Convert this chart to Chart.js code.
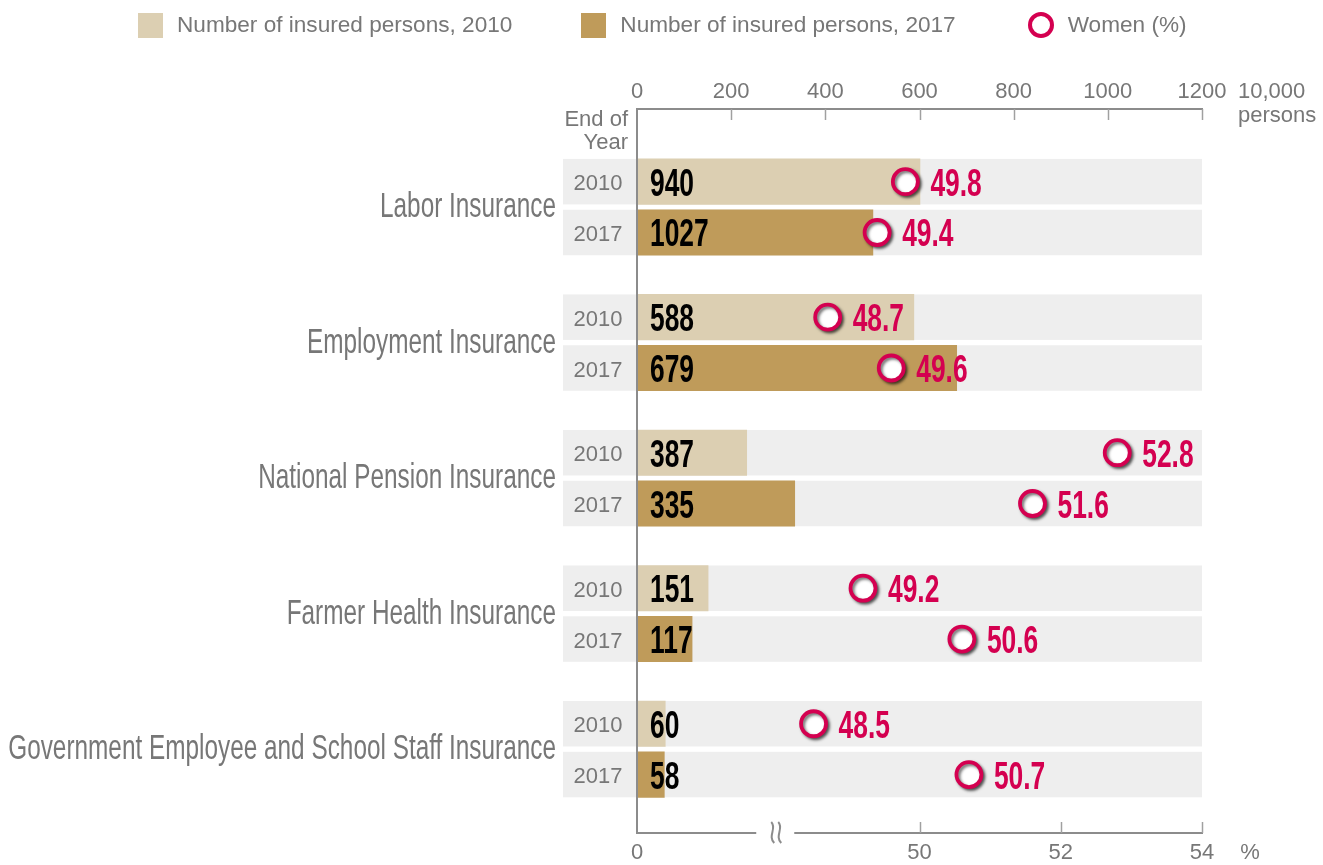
<!DOCTYPE html>
<html>
<head>
<meta charset="utf-8">
<script src="https://cdn.jsdelivr.net/npm/chart.js@4/dist/chart.umd.min.js"></script>
<style>
  html, body { margin: 0; padding: 0; background: #fff; }
  #wrap { position: relative; width: 1323px; height: 865px; }
  #legend { position: absolute; left: 138px; top: 11px; height: 28px; display: flex; align-items: center;
            font-family: "Liberation Sans", Arial, sans-serif; font-size: 22.6px; color: #777; }
  .item { display: flex; align-items: center; margin-right: 69px; white-space: nowrap; }
  .sw { width: 25px; height: 25px; margin-right: 14px; }
  .ring { width: 18px; height: 18px; border: 4px solid #d40050; border-radius: 50%; margin-left: 3px; margin-right: 14px; background: #fff; }
  canvas { position: absolute; left: 0; top: 0; }
</style>
</head>
<body>
<div id="wrap">
  <canvas id="c" width="1323" height="865"></canvas>
  <div id="legend"></div>
</div>
<script>
// ---------- data ----------
const categories = ['Labor Insurance', 'Employment Insurance', 'National Pension Insurance',
                    'Farmer Health Insurance', 'Government Employee and School Staff Insurance'];
const years = ['2010', '2017'];
// printed values (10,000 persons)
const insured2010 = [940, 588, 387, 151, 60];
const insured2017 = [1027, 679, 335, 117, 58];
// bar lengths as actually drawn in the source graphic (10,000 persons on the top axis)
const barDrawn2010 = [601, 588, 233, 151, 60];
const barDrawn2017 = [501, 679, 335, 117, 58];
// share of women (%)
const women2010 = [49.8, 48.7, 52.8, 49.2, 48.5];
const women2017 = [49.4, 49.6, 51.6, 50.6, 50.7];
// tick labels
const personTicks = [0, 200, 400, 600, 800, 1000, 1200];
const pctTickValues = [46, 50, 52, 54];
const pctTickLabels = ['0', '50', '52', '54'];
const pctBreakValue = 48;

// ---------- styling ----------
const C2010 = '#dccfb2', C2017 = '#bf9b5a', PINK = '#d40050', BAND = '#eeeeee';
const TXT = '#777777', AXIS = '#8c8c8c';
const SANS = '"Liberation Sans", Arial, sans-serif';
const NARROW = '"Liberation Sans Narrow", "Liberation Sans", Arial, sans-serif';
const BAR_T = 45.5;

const rowPos = (g, k) => g * 8 + k * 3;   // pair spacing 3, group spacing 8 (layout units)

const bars2010 = barDrawn2010.map((v, g) => ({ x: v, y: rowPos(g, 0) }));
const bars2017 = barDrawn2017.map((v, g) => ({ x: v, y: rowPos(g, 1) }));
const womenPts = [];
categories.forEach((c, g) => {
  womenPts.push({ x: women2010[g], y: rowPos(g, 0) });
  womenPts.push({ x: women2017[g], y: rowPos(g, 1) });
});

function condText(ctx, text, x, y, font, color, align, sx) {
  ctx.save();
  ctx.font = font; ctx.fillStyle = color; ctx.textAlign = align; ctx.textBaseline = 'alphabetic';
  ctx.translate(x, y); ctx.scale(sx, 1); ctx.fillText(text, 0, 0);
  ctx.restore();
}

const deco = {
  id: 'deco',
  beforeDraw(chart) {
    const { ctx, chartArea: a, scales } = chart;
    ctx.save();
    ctx.fillStyle = '#fff'; ctx.fillRect(0, 0, chart.width, chart.height);
    ctx.fillStyle = BAND;
    categories.forEach((c, g) => {
      [0, 1].forEach(k => {
        const y = scales.y.getPixelForValue(rowPos(g, k));
        ctx.fillRect(a.left - 74, y - BAR_T / 2, a.right - (a.left - 74), BAR_T);
      });
    });
    ctx.restore();
  },
  beforeDatasetDraw(chart, args) {
    if (args.meta.type === 'scatter') {
      const ctx = chart.ctx;
      ctx.save();
      ctx.shadowColor = 'rgba(0,0,0,0.55)';
      ctx.shadowOffsetX = 2; ctx.shadowOffsetY = 2; ctx.shadowBlur = 3;
    }
  },
  afterDatasetDraw(chart, args) {
    if (args.meta.type === 'scatter') chart.ctx.restore();
  },
  afterDatasetsDraw(chart) {
    const { ctx, chartArea: a, scales } = chart;
    const xs = scales.x, xp = scales.xp, ys = scales.y;
    ctx.save();
    ctx.font = '35px ' + NARROW;
    const catSx = 176 / ctx.measureText('Labor Insurance').width;
    ctx.font = 'bold 38px ' + NARROW;
    const numSx = 44 / ctx.measureText('940').width;
    ctx.restore();

    ctx.save();
    ctx.strokeStyle = AXIS; ctx.lineWidth = 2;
    ctx.beginPath(); ctx.moveTo(a.left, a.top); ctx.lineTo(a.left, a.bottom); ctx.stroke();
    ctx.lineWidth = 1.5; ctx.strokeStyle = '#a0a0a0';
    personTicks.slice(1).forEach(v => {
      const x = Math.round(xs.getPixelForValue(v)) + 0.5;
      ctx.beginPath(); ctx.moveTo(x, a.top); ctx.lineTo(x, a.top + 11); ctx.stroke();
    });
    pctTickValues.slice(1).forEach(v => {
      const x = Math.round(xp.getPixelForValue(v)) + 0.5;
      ctx.beginPath(); ctx.moveTo(x, a.bottom); ctx.lineTo(x, a.bottom - 11); ctx.stroke();
    });
    const bx = xp.getPixelForValue(pctBreakValue) - 3;
    ctx.fillStyle = '#fff';
    ctx.fillRect(bx - 19, a.bottom - 3, 38, 6);
    ctx.strokeStyle = AXIS; ctx.lineWidth = 2;
    [-3, 4].forEach(dx => {
      const cx = bx + dx, cy = a.bottom;
      ctx.beginPath();
      ctx.moveTo(cx - 1, cy - 11);
      ctx.bezierCurveTo(cx + 5, cy - 5, cx - 5, cy + 3, cx + 2, cy + 10);
      ctx.stroke();
    });
    ctx.restore();

    ctx.save();
    ctx.font = '22px ' + SANS; ctx.fillStyle = TXT; ctx.textAlign = 'center'; ctx.textBaseline = 'alphabetic';
    categories.forEach((c, g) => {
      years.forEach((yr, k) => {
        ctx.fillText(yr, a.left - 39, ys.getPixelForValue(rowPos(g, k)) + 8.5);
      });
    });
    ctx.textAlign = 'right'; ctx.textBaseline = 'middle';
    ctx.fillText('End of', a.left - 9, a.top + 11);
    ctx.fillText('Year', a.left - 9, a.top + 34);
    ctx.textAlign = 'left';
    ctx.fillText('10,000', a.right + 36, a.top - 17);
    ctx.fillText('persons', a.right + 36, a.top + 7);
    ctx.textAlign = 'center';
    ctx.fillText('%', a.right + 48, a.bottom + 20);
    ctx.restore();

    categories.forEach((c, g) => {
      const yc = (ys.getPixelForValue(rowPos(g, 0)) + ys.getPixelForValue(rowPos(g, 1))) / 2;
      condText(ctx, c, a.left - 81, yc + 10, '35px ' + NARROW, TXT, 'right', catSx);
    });
    const printed = [insured2010, insured2017];
    const women = [women2010, women2017];
    categories.forEach((c, g) => {
      [0, 1].forEach(k => {
        const y = ys.getPixelForValue(rowPos(g, k));
        condText(ctx, String(printed[k][g]), a.left + 13, y + 14, 'bold 38px ' + NARROW, '#000', 'left', numSx);
        const px = xp.getPixelForValue(women[k][g]);
        condText(ctx, women[k][g].toFixed(1), px + 25, y + 14, 'bold 38px ' + NARROW, PINK, 'left', numSx);
      });
    });
  }
};

const chart = new Chart(document.getElementById('c'), {
  type: 'bar',
  data: {
    datasets: [
      { type: 'scatter', label: 'Women (%)', data: womenPts, xAxisID: 'xp', yAxisID: 'y', order: 0,
        pointRadius: 12.5, pointHoverRadius: 12.5, borderWidth: 3.8, pointBorderWidth: 3.8,
        backgroundColor: '#fff', borderColor: PINK, pointBackgroundColor: '#fff', pointBorderColor: PINK },
      { label: 'Number of insured persons, 2010', data: bars2010, xAxisID: 'x', yAxisID: 'y', order: 2,
        backgroundColor: C2010, barThickness: BAR_T, grouped: false, borderWidth: 0 },
      { label: 'Number of insured persons, 2017', data: bars2017, xAxisID: 'x', yAxisID: 'y', order: 1,
        backgroundColor: C2017, barThickness: BAR_T, grouped: false, borderWidth: 0 }
    ]
  },
  options: {
    indexAxis: 'y',
    responsive: false,
    animation: false,
    events: [],
    layout: { padding: { left: 637, right: 121, top: 0, bottom: 0 } },
    plugins: { legend: { display: false }, tooltip: { enabled: false } },
    scales: {
      x: {
        type: 'linear', position: 'top', min: 0, max: 1200,
        afterBuildTicks: s => { s.ticks = personTicks.map(v => ({ value: v })); },
        afterFit: s => { s.height = 109; },
        grid: { display: false, drawTicks: false },
        border: { display: true, color: AXIS, width: 2 },
        ticks: { color: TXT, font: { family: SANS, size: 22 }, padding: 4, maxRotation: 0,
                 callback: v => String(v) }
      },
      xp: {
        type: 'linear', position: 'bottom', min: 46, max: 54,
        afterBuildTicks: s => { s.ticks = pctTickValues.map(v => ({ value: v })); },
        afterFit: s => { s.height = 32; },
        grid: { display: false, drawTicks: false },
        border: { display: true, color: AXIS, width: 2 },
        ticks: { color: TXT, font: { family: SANS, size: 22 }, padding: 7, maxRotation: 0,
                 callback: v => pctTickLabels[pctTickValues.indexOf(v)] }
      },
      y: { type: 'linear', reverse: true, offset: false, min: -4.29, max: 38.45, display: false }
    }
  },
  plugins: [deco]
});

const legend = document.getElementById('legend');
[1, 2, 0].forEach(i => {
  const ds = chart.data.datasets[i];
  const item = document.createElement('div'); item.className = 'item';
  const mark = document.createElement('span');
  if (ds.type === 'scatter') { mark.className = 'ring'; }
  else { mark.className = 'sw'; mark.style.background = ds.backgroundColor; }
  const t = document.createElement('span'); t.textContent = ds.label;
  item.appendChild(mark); item.appendChild(t); legend.appendChild(item);
});
</script>
</body>
</html>
